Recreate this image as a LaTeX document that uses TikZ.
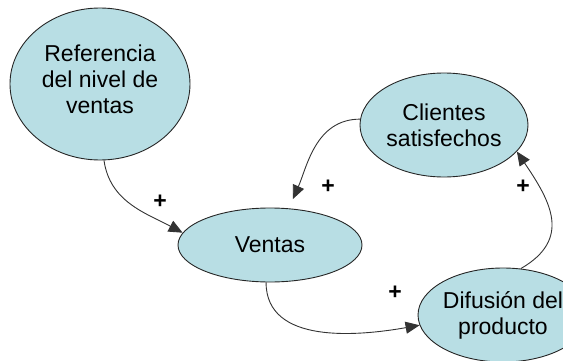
\documentclass[tikz,border=0pt]{standalone}
\usepackage{fontspec}
\setmainfont{Liberation Sans}
\usetikzlibrary{arrows.meta,shapes.geometric}
\definecolor{ellfill}{RGB}{184,222,228}
\begin{document}
\begin{tikzpicture}[x=1pt,y=1pt,
  ell/.style={ellipse,draw=black!85,line width=0.9pt,fill=ellfill,inner sep=0pt,align=center,
    font=\fontsize{23}{26}\selectfont},
  link/.style={draw=black!80,line width=0.9pt,-{Triangle[length=14pt,width=12pt]}},
  plus/.style={font=\fontsize{23}{23}\selectfont\bfseries,inner sep=0pt}]
\useasboundingbox (0,0) rectangle (563,360);
\clip (0,0) rectangle (563,360);
\node[ell,minimum width=180pt,minimum height=152pt] (ref) at (100,276) {Referencia\\del nivel de\\ventas\\[-16pt]};
\node[ell,minimum width=184pt,minimum height=74pt] (ven) at (270,115) {Ventas};
\node[ell,minimum width=168pt,minimum height=104pt] (cli) at (444,235) {Clientes\\satisfechos};
\node[ell,minimum width=160pt,minimum height=94pt] (dif) at (503,45) {Difusión del\\producto};
\draw[link] (ref.-87) to[out=-82,in=152] (ven.172);
\draw[link,shorten >=10pt] (cli.176) to[out=180,in=66] (ven.63);
\draw[link] (ven.-96) to[out=-90,in=190] (dif.187);
\draw[link] (dif.69) to[out=30,in=-56,looseness=1.3] (cli.-20);
\node[plus] (p1) at (160,158) {+};
\node[plus] (p2) at (328,173) {+};
\node[plus] (p3) at (395,67) {+};
\node[plus] (p4) at (523,173) {+};
\end{tikzpicture}
\end{document}
